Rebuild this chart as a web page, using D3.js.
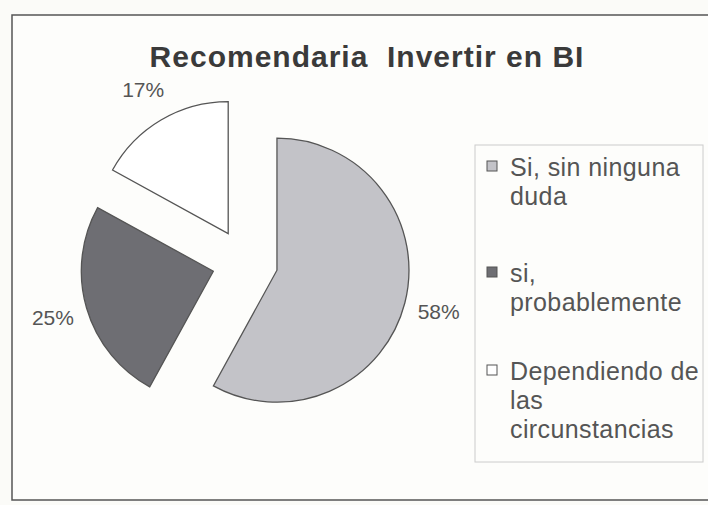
<!DOCTYPE html>
<html>
<head>
<meta charset="utf-8">
<script src="https://cdn.jsdelivr.net/npm/d3@7"></script>
<style>
  body { margin: 0; background: #fbfbf8; }
  text { font-family: "Liberation Sans", Arial, sans-serif; white-space: pre; }
</style>
</head>
<body>
<div id="chart"></div>
<script>
// chart data
var categories = ["Si, sin ninguna duda", "si, probablemente", "Dependiendo de las circunstancias"];
var values = [58, 25, 17];
var legendLines = [["Si, sin ninguna", "duda"], ["si,", "probablemente"], ["Dependiendo de", "las", "circunstancias"]];
var sliceColors = ["#c3c3c8", "#6e6e73", "#ffffff"];

var width = 708, height = 505;
var cx = 245, cy = 262, radius = 132, explode = 33, labelRadius = 167;

var svg = d3.select("#chart")
	.append("svg")
	.attr("width", width)
	.attr("height", height);

// frame of the chart area
svg.append("rect")
	.attr("x", 12).attr("y", 15)
	.attr("width", 720).attr("height", 485)
	.attr("fill", "#fdfdfb")
	.attr("stroke", "#555")
	.attr("stroke-width", 1.5);

svg.append("text")
	.attr("x", 367).attr("y", 67)
	.attr("text-anchor", "middle")
	.attr("font-size", 30)
	.attr("font-weight", "bold")
	.attr("letter-spacing", 1)
	.attr("fill", "#3a3a3a")
	.text("Recomendaria  Invertir en BI");

var pie = d3.pie().sort(null).value(d => d);
var arcs = pie(values);
var arc = d3.arc().innerRadius(0).outerRadius(radius);

var mid = d => (d.startAngle + d.endAngle) / 2;
var dir = d => [Math.sin(mid(d)), -Math.cos(mid(d))];

var g = svg.append("g").attr("transform", "translate(" + cx + "," + cy + ")");

g.selectAll("path")
	.data(arcs)
	.join("path")
	.attr("d", arc)
	.attr("transform", d => "translate(" + dir(d)[0] * explode + "," + dir(d)[1] * explode + ")")
	.attr("fill", (d, i) => sliceColors[i])
	.attr("stroke", "#555")
	.attr("stroke-width", 1.3);

// percentage labels sit outside each exploded slice
g.selectAll("text.pct")
	.data(arcs)
	.join("text")
	.attr("class", "pct")
	.attr("x", d => dir(d)[0] * (explode + labelRadius))
	.attr("y", d => dir(d)[1] * (explode + labelRadius))
	.attr("text-anchor", "middle")
	.attr("dominant-baseline", "central")
	.attr("font-size", 21)
	.attr("fill", "#555")
	.text(d => d3.format(".0%")(d.value / d3.sum(values)));

// legend
var legend = svg.append("g");
legend.append("rect")
	.attr("x", 475).attr("y", 145)
	.attr("width", 228).attr("height", 317)
	.attr("fill", "#fdfdfb")
	.attr("stroke", "#ccc");

var entryY = [176, 282, 380];
var lineH = 29;

var items = legend.selectAll("g.item")
	.data(categories)
	.join("g")
	.attr("class", "item");

items.append("rect")
	.attr("x", 487)
	.attr("y", (d, i) => entryY[i] - 15)
	.attr("width", 10).attr("height", 10)
	.attr("fill", (d, i) => sliceColors[i])
	.attr("stroke", "#555");

items.each(function(d, i) {
	d3.select(this).selectAll("text")
		.data(legendLines[i])
		.join("text")
		.attr("x", 510)
		.attr("y", (t, j) => entryY[i] + j * lineH)
		.attr("font-size", 25)
		.attr("letter-spacing", 0.4)
		.attr("fill", "#555")
		.text(t => t);
});
</script>
</body>
</html>
